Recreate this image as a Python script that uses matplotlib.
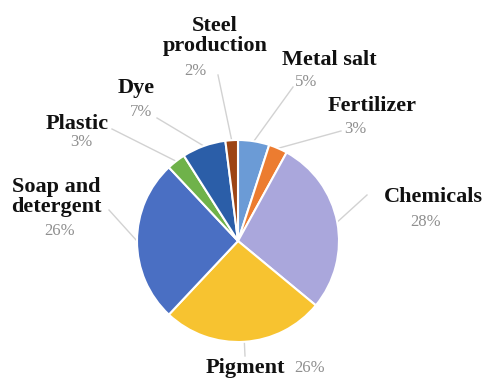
"""
Pie chart of end uses, recreated from a scanned figure.

"""

import matplotlib.pyplot as plt
import numpy as np

W, H = 485, 382

names = ["Metal salt", "Fertilizer", "Chemicals", "Pigment",
         "Soap and\ndetergent", "Plastic", "Dye", "Steel\nproduction"]
shares = [5, 3, 28, 26, 26, 3, 7, 2]
colors = ["#6b9bd6", "#ec7c30", "#aaa7dc", "#f7c330",
          "#4a6fc3", "#6fb24a", "#2b5ea8", "#9d4515"]

# label layout in image pixels: name centre, percent centre, leader start
name_xy = [(329, 60), (372, 106), (433, 197), (245, 368),
           (56, 197), (77, 124), (136, 88), (215, 36)]
pct_xy = [(306, 82), (355, 129), (426, 222), (310, 368),
          (60, 231), (81, 142), (141, 112), (195, 71)]
lead_xy = [(293, 87), (341, 131), (367, 195), (245, 356),
           (109, 210), (112, 129), (157, 118), (218, 75)]


def main() -> None:
    fig = plt.figure(figsize=(W / 100, H / 100), dpi=100)
    ax = fig.add_axes([0, 0, 1, 1])

    cx, cy, r = 238, H - 241, 101
    wedges, _ = ax.pie(
        shares,
        colors=colors,
        startangle=90,
        counterclock=False,
        center=(cx, cy),
        radius=r,
        wedgeprops=dict(edgecolor="white", linewidth=1.5),
    )
    ax.set_xlim(0, W)
    ax.set_ylim(0, H)
    ax.set_aspect("equal")
    ax.axis("off")

    serif = ["Liberation Serif", "DejaVu Serif"]
    for wedge, name, share, nxy, pxy, lxy in zip(
        wedges, names, shares, name_xy, pct_xy, lead_xy
    ):
        mid = np.deg2rad((wedge.theta1 + wedge.theta2) / 2)
        ex = cx + r * np.cos(mid)
        ey = cy + r * np.sin(mid)
        ax.plot([lxy[0], ex], [H - lxy[1], ey], color="#d2d2d2",
                linewidth=1.0, zorder=0)
        ax.text(nxy[0], H - nxy[1], name, ha="center", va="center",
                family=serif, fontweight="bold", fontsize=16,
                color="#111111", linespacing=1.0)
        ax.text(pxy[0], H - pxy[1], f"{share}%", ha="center", va="center",
                family=serif, fontsize=12, color="#8f8f8f")

    fig.savefig("out.png", dpi=100)


if __name__ == "__main__":
    main()
